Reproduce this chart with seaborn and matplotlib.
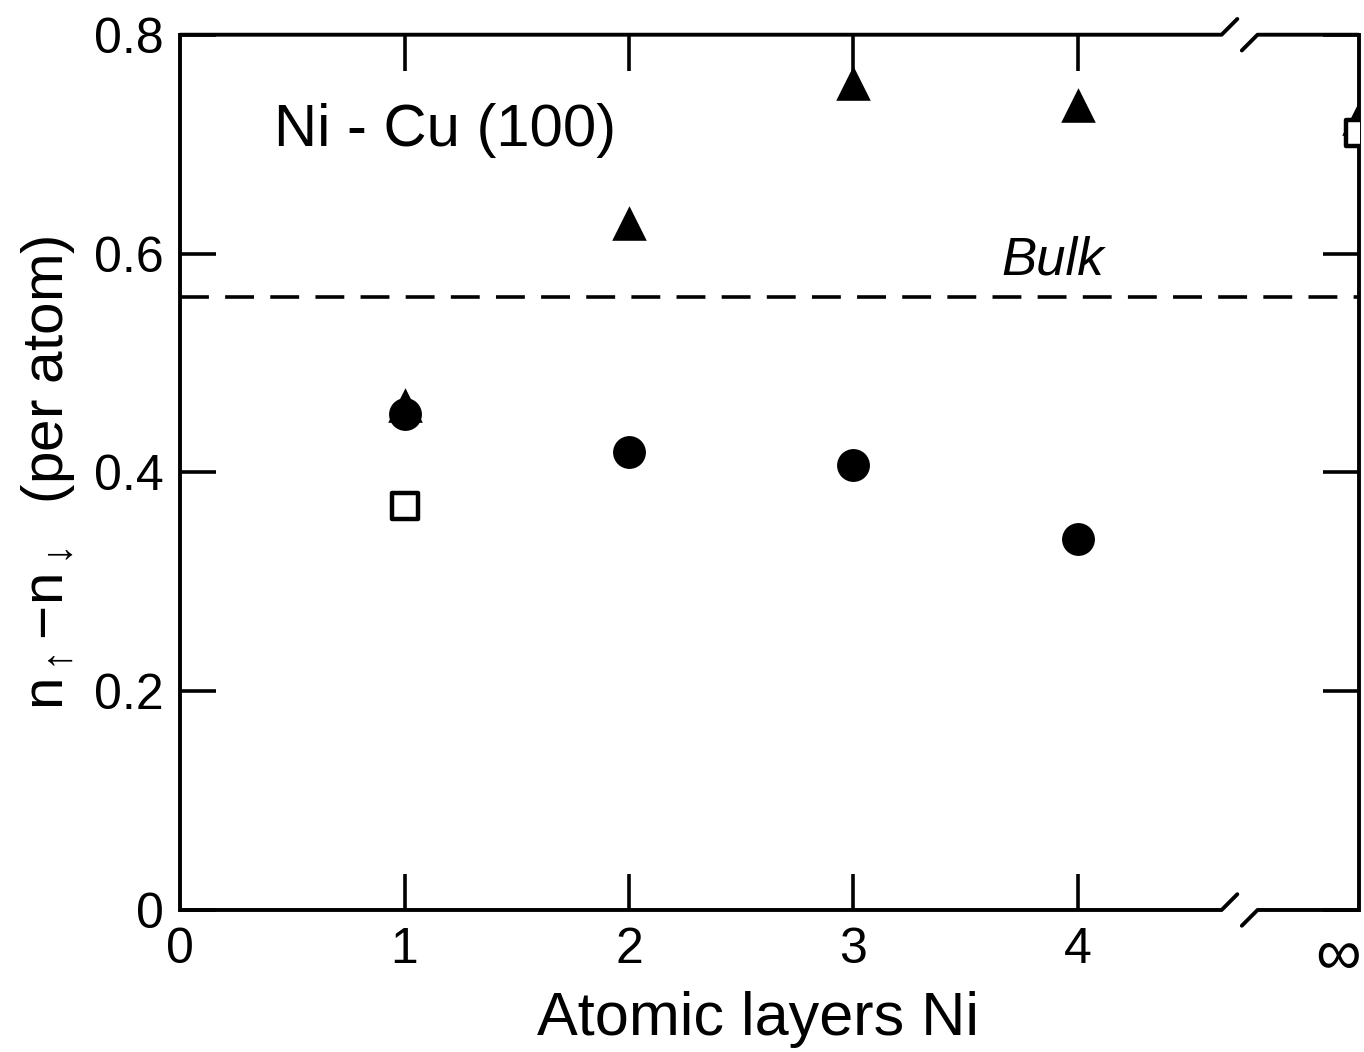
import numpy as np
import pandas as pd
import matplotlib
matplotlib.use("Agg")
import matplotlib.pyplot as plt
import seaborn as sns

# values
INF = 5.25          # position used for the "infinity" column (right spine)
layers_tri = [1, 2, 3, 4, INF]
moment_tri = [0.462, 0.628, 0.756, 0.736, 0.724]
layers_circ = [1, 2, 3, 4]
moment_circ = [0.453, 0.419, 0.407, 0.339]
layers_sq = [1, INF]
moment_sq = [0.369, 0.71]
bulk = 0.56

xtick_pos = [0, 1, 2, 3, 4, 5.16]
xtick_labels = ["0", "1", "2", "3", "4", "\u221e"]
ytick_pos = [0, 0.2, 0.4, 0.6, 0.8]
ytick_labels = ["0", "0.2", "0.4", "0.6", "0.8"]

sns.set_style("ticks")
plt.rcParams["font.family"] = ["Liberation Sans", "DejaVu Sans"]
plt.rcParams["mathtext.fontset"] = "custom"
plt.rcParams["mathtext.rm"] = "Liberation Sans"
plt.rcParams["mathtext.it"] = "Liberation Sans"
for k in ["text.color", "axes.labelcolor", "xtick.color", "ytick.color",
          "axes.edgecolor"]:
    plt.rcParams[k] = "black"

fig = plt.figure(figsize=(13.64, 10.52), dpi=100)
ax = fig.add_axes([0.132, 0.135, 0.864, 0.832])

tri = pd.DataFrame({"layers": layers_tri, "moment": moment_tri})
circ = pd.DataFrame({"layers": layers_circ, "moment": moment_circ})
sq = pd.DataFrame({"layers": layers_sq, "moment": moment_sq})

sns.scatterplot(data=circ, x="layers", y="moment", ax=ax, marker="o", s=560,
                color="black", edgecolor="black", linewidth=0, zorder=3)
sns.scatterplot(data=tri, x="layers", y="moment", ax=ax, marker="^", s=620,
                color="black", edgecolor="black", linewidth=0, zorder=4)
sns.scatterplot(data=sq, x="layers", y="moment", ax=ax, marker="s", s=340,
                facecolor="white", edgecolor="black", linewidth=3.2, zorder=5)

ax.axhline(bulk, color="black", lw=2.6, dashes=(8, 4.5), zorder=2)
ax.text(3.66, 0.594, "Bulk", fontsize=38, style="italic", va="center", ha="left")
ax.text(0.42, 0.712, "Ni - Cu (100)", fontsize=43, va="center", ha="left")

ax.set_xlim(0, INF)
ax.set_ylim(0, 0.8)
ax.set_xticks(xtick_pos)
ax.set_xticklabels(xtick_labels)
ax.set_yticks(ytick_pos)
ax.set_yticklabels(ytick_labels)
ax.tick_params(direction="in", length=26, width=2.6, labelsize=36,
               top=True, right=True, pad=12)
for t in ax.xaxis.get_major_ticks():
    if t.get_loc() in (0, 5.16):
        t.tick1line.set_visible(False)
        t.tick2line.set_visible(False)
ax.get_xticklabels()[-1].set_fontsize(46)

ax.set_xlabel("Atomic layers Ni", fontsize=44)
ax.xaxis.set_label_coords(0.49, -0.092)
ax.set_ylabel(r"$\mathrm{n_{\uparrow}\!-\!n_{\downarrow}}$  (per atom)",
              fontsize=42, labelpad=12)

for side in ["left", "right"]:
    ax.spines[side].set_linewidth(2.8)
ax.spines["top"].set_visible(False)
ax.spines["bottom"].set_visible(False)

# broken top and bottom axis lines
tr = ax.get_xaxis_transform()
bl, br = 4.64, 4.80
dx, dy = 0.07, 0.018
for y0 in (0, 1):
    ax.plot([0, bl, bl + dx], [y0, y0, y0 + dy], transform=tr, color="black",
            lw=2.8, clip_on=False, solid_capstyle="round")
    ax.plot([br - dx, br, INF], [y0 - dy, y0, y0], transform=tr, color="black",
            lw=2.8, clip_on=False, solid_capstyle="round")

fig.savefig("out.png", dpi=100)
